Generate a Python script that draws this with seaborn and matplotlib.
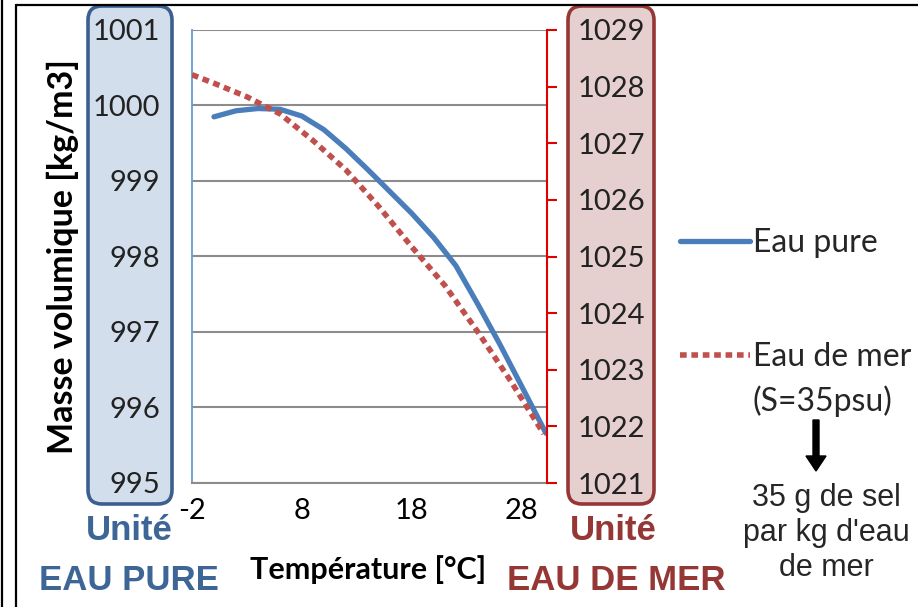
import matplotlib
matplotlib.use("Agg")
import matplotlib.pyplot as plt
import seaborn as sns
import pandas as pd
from matplotlib.patches import FancyBboxPatch

# Masse volumique de l'eau pure et de l'eau de mer (S=35 psu)
temp_pure = [0, 2, 4, 6, 8, 10, 12, 14, 16, 18, 20, 22, 24, 26, 28, 30.2]
rho_pure = [999.85, 999.93, 999.96, 999.95, 999.86, 999.68, 999.43, 999.15,
            998.86, 998.57, 998.25, 997.88, 997.37, 996.84, 996.28, 995.66]

temp_mer = [-2, 0, 3, 6, 9, 12, 15, 18, 21, 24, 27, 30]
rho_mer = [1028.21, 1028.06, 1027.82, 1027.52, 1027.05, 1026.53, 1025.88,
           1025.17, 1024.49, 1023.67, 1022.80, 1021.87]

x_ticks = [-2, 8, 18, 28]
y_ticks_pure = [995, 996, 997, 998, 999, 1000, 1001]
y_ticks_mer = [1021, 1022, 1023, 1024, 1025, 1026, 1027, 1028, 1029]

df_pure = pd.DataFrame({"T": temp_pure, "rho": rho_pure})
df_mer = pd.DataFrame({"T": temp_mer, "rho": rho_mer})

sns.set_style("white")
plt.rcParams['font.family'] = ['Lato', 'DejaVu Sans']
plt.rcParams['axes.unicode_minus'] = False

BLUE = "#4A7EBB"
RED = "#C0504D"
GRID = "#8C8C8C"
W, H = 918, 607

fig = plt.figure(figsize=(W / 100, H / 100), dpi=100)

# overlay in pixel coordinates for boxes and annotations
ov = fig.add_axes([0, 0, 1, 1], zorder=-1)
ov.set_xlim(0, W)
ov.set_ylim(H, 0)
ov.axis("off")

# frame lines
ov.plot([2, 2], [0, H], color="black", lw=1.6)
ov.plot([16, 16], [5, H], color="black", lw=1.6)
ov.plot([16, W], [5, 5], color="black", lw=1.6)

# unit boxes
ov.add_patch(FancyBboxPatch((88, 6), 84, 498, boxstyle="round,pad=0,rounding_size=14",
                            fc="#D3DEEC", ec="#3B6090", lw=2.6))
ov.add_patch(FancyBboxPatch((568, 6), 86, 498, boxstyle="round,pad=0,rounding_size=14",
                            fc="#E6CFCF", ec="#953735", lw=2.6))

# main axes
ax = fig.add_axes([192 / W, 124 / H, 355 / W, 453 / H])
ax.set_facecolor("white")
sns.lineplot(data=df_pure, x="T", y="rho", ax=ax, color=BLUE, lw=3.8,
             solid_capstyle="round", label="Eau pure", legend=False)
ax.set_xlim(-2, 30.3)
ax.set_ylim(995, 1001)
ax.set_xticks(x_ticks)
ax.set_yticks(y_ticks_pure)
ax.grid(axis="y", color=GRID, lw=1.5)
ax.grid(axis="x", visible=False)
ax.tick_params(axis="y", length=0, pad=23, labelsize=21, labelcolor="#222222")
ax.tick_params(axis="x", length=0, pad=11, labelsize=21, labelcolor="black")
for s in ["top", "right"]:
    ax.spines[s].set_visible(False)
ax.spines["left"].set_color("#6A9BD8")
ax.spines["left"].set_linewidth(1.3)
ax.spines["bottom"].set_color(GRID)
ax.spines["bottom"].set_linewidth(1.5)

ax.set_xlabel("Température [°C]", fontsize=22, fontweight="bold", color="black")
ax.set_ylabel("Masse volumique [kg/m3]", fontsize=24.5, fontweight="bold", color="black")
ax.xaxis.label.set_va("center")
ax.yaxis.label.set_va("center")
ax.xaxis.set_label_coords(0.496, -0.192)
ax.yaxis.set_label_coords(-0.363, 0.50)

ax2 = ax.twinx()
sns.lineplot(data=df_mer, x="T", y="rho", ax=ax2, color=RED, lw=4,
             linestyle=(0, (1.2, 0.85)), dash_capstyle="butt",
             label="Eau de mer", legend=False)
ax2.set_ylim(1021, 1029)
ax2.set_yticks(y_ticks_mer)
ax2.set_ylabel("")
for s in ["top", "left", "bottom"]:
    ax2.spines[s].set_visible(False)
ax2.spines["right"].set_color("#E00000")
ax2.spines["right"].set_linewidth(1.5)
ax2.tick_params(axis="y", right=True, length=7, width=1.5, color="#E00000",
                direction="out", pad=15, labelsize=21, labelcolor="#222222")

# legend
h1 = ax.get_lines()[0]
h2 = ax2.get_lines()[0]
fig.legend([h1, h2], ["Eau pure", "Eau de mer"], loc="upper left",
           bbox_to_anchor=(680 / W, 1 - 228 / H), frameon=False, fontsize=23,
           handlelength=2.2, handletextpad=0.08, labelspacing=2.62, borderpad=0,
           borderaxespad=0)
ov.text(752, 401, "(S=35psu)", fontsize=23, va="center", ha="left")

# arrow and note
ov.arrow(816, 420, 0, 36, width=6, head_width=20, head_length=15,
         color="black", length_includes_head=False)
ov.text(826, 533, "35 g de sel\npar kg d'eau\nde mer", ha="center", va="center",
        fontsize=22, family="Liberation Sans", linespacing=1.22)

# unit labels
ov.text(129, 531, "Unité", ha="center", va="center", fontsize=25,
        fontweight="bold", family="Liberation Sans", color="#3D6596")
ov.text(129, 581, "EAU PURE", ha="center", va="center", fontsize=25,
        fontweight="bold", family="Liberation Sans", color="#3D6596")
ov.text(613, 531, "Unité", ha="center", va="center", fontsize=25,
        fontweight="bold", family="Liberation Sans", color="#953735")
ov.text(616, 581, "EAU DE MER", ha="center", va="center", fontsize=25,
        fontweight="bold", family="Liberation Sans", color="#953735")

fig.savefig("out.png", dpi=100)
